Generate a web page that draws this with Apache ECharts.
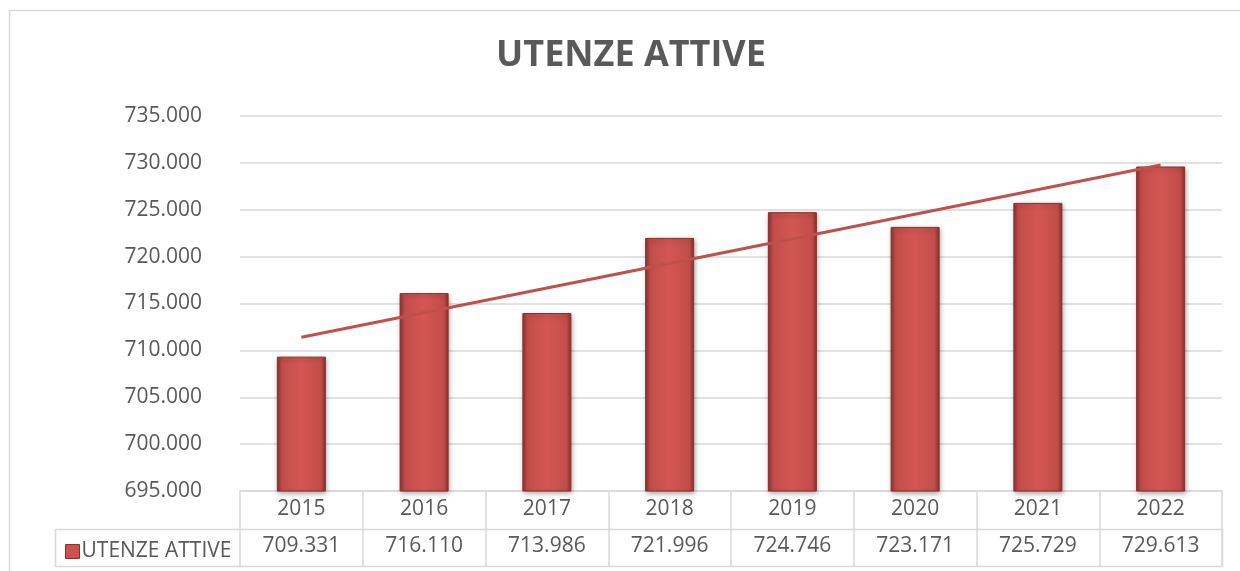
<!DOCTYPE html>
<html>
<head>
<meta charset="utf-8">
<title>Utenze attive</title>
<script src="https://cdn.jsdelivr.net/npm/echarts@6/dist/echarts.min.js"></script>
<style>
  html, body { margin: 0; padding: 0; background: #fff; }
  #chart { width: 1240px; height: 571px; }
</style>
</head>
<body>
<div id="chart"></div>
<script>
  // dati
  var anni = ["2015", "2016", "2017", "2018", "2019", "2020", "2021", "2022"];
  var utenze = [709331, 716110, 713986, 721996, 724746, 723171, 725729, 729613];
  // linea di tendenza: valori letti agli estremi (primo e ultimo anno)
  var tendenza = [711400, null, null, null, null, null, null, 729770];
  var titolo = "UTENZE ATTIVE";
  var nomeSerie = "UTENZE ATTIVE";

  // layout
  var G = { left: 240, right: 18, top: 116, bottom: 80 };
  var W = 1240, H = 571, riga = 38;
  var ink = "#595959", lineCol = "#d9d9d9";
  var font = "'Open Sans', 'Noto Sans', sans-serif";
  var fs = 21;

  function fmt(v){ return String(v).replace(/\B(?=(\d{3})+(?!\d))/g, "."); }

  var barFill = new echarts.graphic.LinearGradient(0, 0, 1, 0, [
    { offset: 0, color: "#8e302e" },
    { offset: 0.1, color: "#c24d4a" },
    { offset: 0.5, color: "#d35754" },
    { offset: 0.9, color: "#c24d4a" },
    { offset: 1, color: "#8e302e" }
  ]);

  var chart = echarts.init(document.getElementById("chart"), null, { renderer: "canvas" });
  var axisY = H - G.bottom;

  chart.setOption({
    animation: false,
    title: {
      text: titolo, left: 631, textAlign: "center", top: 38, padding: 0,
      textStyle: { fontFamily: font, fontSize: 36, fontWeight: "bold", color: ink }
    },
    legend: {
      left: 60, top: axisY + riga + 7, itemWidth: 14, itemHeight: 14, icon: "rect",
      selectedMode: false,
      data: [{ name: nomeSerie, itemStyle: { color: "#c9524f", borderColor: "#8a2f2d", borderWidth: 1 } }],
      textStyle: { fontFamily: font, fontSize: fs, color: ink, padding: [0, 0, 0, -3] }
    },
    grid: { left: G.left, right: G.right, top: G.top, bottom: G.bottom, containLabel: false },
    graphic: [
      // cornice esterna
      { type: "rect", shape: { x: 9.5, y: 10.5, width: W, height: H }, style: { fill: "none", stroke: lineCol, lineWidth: 1.5 }, silent: true },
      // riga dei valori della tabella dati
      { type: "rect", shape: { x: 55.5, y: axisY + riga + 0.5, width: W - G.right - 55, height: riga - 1 }, style: { fill: "none", stroke: lineCol, lineWidth: 1.5 }, silent: true }
    ],
    xAxis: [
      {
        type: "category", data: anni, boundaryGap: true, position: "bottom",
        axisLine: { show: true, lineStyle: { color: lineCol, width: 1.5 } },
        axisTick: { show: true, length: riga * 2 - 1, inside: false, lineStyle: { color: lineCol, width: 1.5 } },
        axisLabel: { margin: 8, fontFamily: font, fontSize: fs, color: ink }
      },
      {
        type: "category", data: anni, boundaryGap: true, position: "bottom", offset: riga,
        axisLine: { show: false }, axisTick: { show: false },
        axisLabel: {
          margin: 7, fontFamily: font, fontSize: fs, color: ink,
          formatter: function(v, i){ return fmt(utenze[i]); }
        }
      }
    ],
    yAxis: {
      type: "value", min: 695000, max: 735000, interval: 5000,
      axisLine: { show: false }, axisTick: { show: false },
      splitLine: { lineStyle: { color: lineCol, width: 1.5 } },
      axisLabel: { margin: 38, fontFamily: font, fontSize: fs, color: ink, formatter: fmt }
    },
    series: [
      {
        name: nomeSerie, type: "bar", data: utenze, barWidth: 49, xAxisIndex: 0,
        itemStyle: {
          color: barFill, borderColor: "#8a2f2d", borderWidth: 1,
          shadowColor: "rgba(0,0,0,0.35)", shadowBlur: 5, shadowOffsetX: 1, shadowOffsetY: 2
        },
        z: 2
      },
      {
        name: "tendenza", type: "line", data: tendenza, connectNulls: true, xAxisIndex: 0,
        showSymbol: false, symbol: "none", lineStyle: { color: "#c0504d", width: 3 },
        z: 3, silent: true
      }
    ]
  });
</script>
</body>
</html>
